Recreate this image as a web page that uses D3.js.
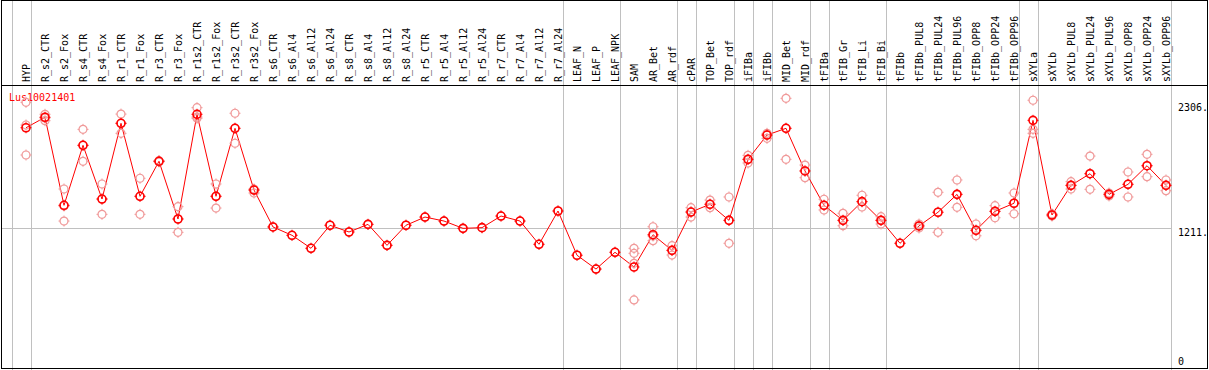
<!DOCTYPE html>
<html>
<head>
<meta charset="utf-8">
<script src="https://cdn.jsdelivr.net/npm/d3@7"></script>
<style>
    body { margin: 0; background: #fff; }
    svg text { font-family: "DejaVu Sans Mono", monospace; font-size: 10px; }
</style>
</head>
<body>
<script>
var geneName = "Lus10021401";

var samples = ["HYP",
    "R_s2_CTR", "R_s2_Fox", "R_s4_CTR", "R_s4_Fox", "R_r1_CTR", "R_r1_Fox",
    "R_r3_CTR", "R_r3_Fox", "R_r1s2_CTR", "R_r1s2_Fox", "R_r3s2_CTR", "R_r3s2_Fox",
    "R_s6_CTR", "R_s6_Al4", "R_s6_Al12", "R_s6_Al24", "R_s8_CTR", "R_s8_Al4",
    "R_s8_Al12", "R_s8_Al24", "R_r5_CTR", "R_r5_Al4", "R_r5_Al12", "R_r5_Al24",
    "R_r7_CTR", "R_r7_Al4", "R_r7_Al12", "R_r7_Al24",
    "LEAF_N", "LEAF_P", "LEAF_NPK", "SAM", "AR_Bet", "AR_rdf", "cPAR",
    "TOP_Bet", "TOP_rdf", "iFIBa", "iFIBb", "MID_Bet", "MID_rdf",
    "tFIBa", "tFIB_Gr", "tFIB_Li", "tFIB_Bi", "tFIBb",
    "tFIBb_PUL8", "tFIBb_PUL24", "tFIBb_PUL96", "tFIBb_OPP8", "tFIBb_OPP24", "tFIBb_OPP96",
    "sXYLa", "sXYLb",
    "sXYLb_PUL8", "sXYLb_PUL24", "sXYLb_PUL96", "sXYLb_OPP8", "sXYLb_OPP24", "sXYLb_OPP96"];

// mean expression per sample (the red line)
var means = [2089,
    2181, 1409, 1935, 1464, 2128, 1488,
    1795, 1289, 2207, 1488, 2084, 1543,
    1219, 1146, 1032, 1234, 1175, 1242,
    1058, 1234, 1306, 1271, 1207, 1213,
    1315, 1271, 1067, 1359,
    971, 850, 997, 868, 1151, 1014, 1350,
    1418, 1277, 1812, 2025, 2084, 1710,
    1409, 1277, 1441, 1277, 1076,
    1228, 1348, 1505, 1190, 1356, 1427,
    2154, 1324,
    1584, 1686, 1505, 1593, 1756, 1584];

// single replicates (pink circles)
var replicates = [[2312, 2113, 1850],
    [2207, 2175, 2151], [1552, 1403, 1271], [2075, 1935, 1795], [1596, 1464, 1330],
    [2209, 2128, 2040], [1646, 1488, 1330], [1790, 1795, 1800], [1397, 1289, 1172],
    [2265, 2183, 2172], [1596, 1488, 1385], [2216, 2084, 1953], [1552, 1543, 1517],
    [1219], [1146], [1032], [1234], [1175], [1242],
    [1058], [1234], [1306], [1271], [1207], [1213],
    [1315], [1271], [1067], [1359],
    [971], [850], [997], [1032, 988, 900, 579],
    [1221, 1140, 1099], [1055, 1014, 973], [1388, 1350, 1306],
    [1455, 1418, 1388], [1482, 1277, 1076], [1847, 1812, 1780], [2040, 2025, 1996],
    [2347, 2084, 1812], [1762, 1710, 1651],
    [1462, 1409, 1368], [1339, 1277, 1230], [1497, 1441, 1394], [1309, 1277, 1245],
    [1076],
    [1245, 1228, 1210], [1523, 1348, 1172], [1631, 1505, 1391],
    [1245, 1190, 1142], [1406, 1356, 1300], [1517, 1427, 1335],
    [2330, 2075, 2040], [1333, 1324, 1315],
    [1616, 1584, 1552], [1841, 1686, 1549], [1517, 1505, 1491],
    [1701, 1593, 1482], [1856, 1756, 1660], [1631, 1584, 1537]];

// last sample of each tissue group (grey separators)
var groupEnds = ["HYP", "R_r7_Al24", "LEAF_NPK", "AR_rdf", "cPAR", "TOP_rdf",
    "iFIBa", "iFIBb", "MID_rdf", "tFIBa", "tFIB_Bi", "tFIBb_OPP96", "sXYLa", "sXYLb_OPP96"];

var yTicks = [0, 1211, 2306];
var yTickLabels = ["0", "1211.", "2306."];

var _width = 1209, _height = 370,
    _headerBottom = 85,
    _colStep = 19,
    _left = 16.5;

var svg = d3.select("body").append("svg")
    .attr("width", _width)
    .attr("height", _height);

var x = d3.scaleBand()
    .domain(samples)
    .range([_left, _left + _colStep * samples.length]);

var y = d3.scaleLinear()
    .domain([0, 2306])
    .range([366, 103]);

function cx(s) {
    return x(s) + x.bandwidth() / 2;
}

// grey separators
var sepX = [x(samples[0]) - 5].concat(groupEnds.map(function (s) {
    return x(s) + x.bandwidth() - 5;
}));
var lastSep = d3.max(sepX);

svg.append("g")
    .selectAll("line")
    .data(sepX)
    .enter().append("line")
    .attr("x1", function (d) { return Math.round(d) + 0.5; })
    .attr("x2", function (d) { return Math.round(d) + 0.5; })
    .attr("y1", 0)
    .attr("y2", _height)
    .attr("stroke", "#c0c0c0")
    .attr("shape-rendering", "crispEdges");

// middle horizontal line
svg.append("line")
    .attr("x1", 1).attr("x2", Math.round(lastSep) + 0.5)
    .attr("y1", Math.round(y(yTicks[1])) + 0.5)
    .attr("y2", Math.round(y(yTicks[1])) + 0.5)
    .attr("stroke", "#c0c0c0")
    .attr("shape-rendering", "crispEdges");

// frame and header separator
svg.append("rect")
    .attr("x", 1.5).attr("y", 0.5)
    .attr("width", _width - 3).attr("height", _height - 2)
    .attr("fill", "none")
    .attr("stroke", "#000")
    .attr("shape-rendering", "crispEdges");

svg.append("line")
    .attr("x1", 1).attr("x2", _width - 1)
    .attr("y1", _headerBottom + 0.5).attr("y2", _headerBottom + 0.5)
    .attr("stroke", "#000")
    .attr("shape-rendering", "crispEdges");

// sample labels
svg.append("g")
    .selectAll("text")
    .data(samples)
    .enter().append("text")
    .attr("transform", function (d) {
        return "translate(" + cx(d) + "," + (_headerBottom - 3) + ") rotate(-90)";
    })
    .attr("dy", "0.35em")
    .attr("fill", "#000")
    .text(function (d) { return d; });

// y labels
svg.append("g")
    .selectAll("text")
    .data(yTicks)
    .enter().append("text")
    .attr("x", 1178)
    .attr("y", function (d) { return d === 0 ? y(d) - 1 : y(d); })
    .attr("dy", function (d) { return d === 0 ? 0 : "0.8em"; })
    .attr("fill", "#000")
    .text(function (d, i) { return yTickLabels[i]; });

// gene name
svg.append("text")
    .attr("x", 9)
    .attr("y", 101)
    .attr("fill", "#ff0000")
    .text(geneName);

var line = d3.line()
    .x(function (d, i) { return cx(samples[i]); })
    .y(function (d) { return y(d); });

svg.append("path")
    .datum(means)
    .attr("d", line)
    .attr("fill", "none")
    .attr("stroke", "#ff0000")
    .attr("stroke-width", 1);

var ticks = "M0,-5.5V-3.5M0,3.5V5.5M-5.5,0H-3.5M3.5,0H5.5";

function marker(g, color, width) {
    g.append("circle")
        .attr("r", 4)
        .attr("fill", "none")
        .attr("stroke", color)
        .attr("stroke-width", width);
    g.append("path")
        .attr("d", ticks)
        .attr("stroke", color)
        .attr("stroke-width", 1);
}

var repPoints = [];
replicates.forEach(function (reps, i) {
    reps.forEach(function (v) {
        repPoints.push({s: samples[i], v: v});
    });
});

var repG = svg.append("g")
    .selectAll("g")
    .data(repPoints)
    .enter().append("g")
    .attr("transform", function (d) {
        return "translate(" + cx(d.s) + "," + y(d.v) + ")";
    });
marker(repG, "#f09a9a", 1.2);

var meanG = svg.append("g")
    .selectAll("g")
    .data(means)
    .enter().append("g")
    .attr("transform", function (d, i) {
        return "translate(" + cx(samples[i]) + "," + y(d) + ")";
    });
marker(meanG, "#ff0000", 1.6);
</script>
</body>
</html>
